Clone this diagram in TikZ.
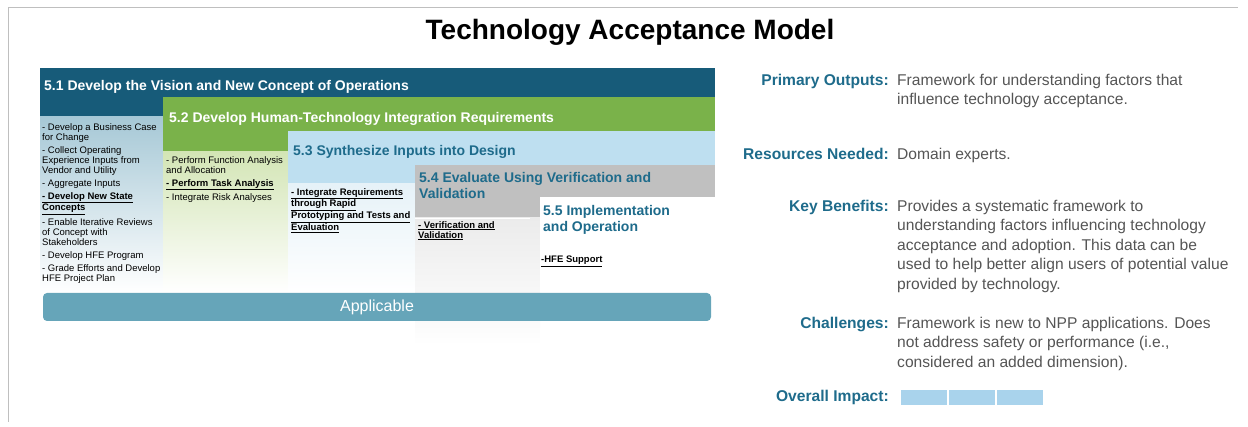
\documentclass[tikz,border=0pt]{standalone}
\usepackage{fontspec}
\setmainfont{Liberation Sans}
\definecolor{cA}{HTML}{175B79}
\definecolor{cB}{HTML}{7AB24A}
\definecolor{cC}{HTML}{BEDFF0}
\definecolor{cD}{HTML}{C0C0C0}
\definecolor{teal}{HTML}{1E6B8B}
\definecolor{appl}{HTML}{66A5B9}
\definecolor{txt}{HTML}{555555}
\definecolor{bA}{HTML}{A6C8D6}
\definecolor{bB}{HTML}{D3E5B5}
\definecolor{bC}{HTML}{E6F2F8}
\definecolor{bD}{HTML}{EBEBEB}
\definecolor{imp}{HTML}{A9D3EC}
\begin{document}
\begin{tikzpicture}[x=1pt,y=-1pt,
  hdrw/.style={anchor=west,inner sep=0pt,font=\fontsize{14}{15}\selectfont\bfseries,text=white,align=left},
  hdrt/.style={anchor=west,inner sep=0pt,font=\fontsize{14}{16}\selectfont\bfseries,text=teal,align=left},
  body/.style={anchor=north west,inner sep=0pt,font=\fontsize{9.5}{10}\selectfont,text=black,align=left},
  lab/.style={anchor=north east,inner sep=0pt,font=\fontsize{15.6}{19.4}\selectfont\bfseries,text=teal,align=right},
  val/.style={anchor=north west,inner sep=0pt,font=\fontsize{15.6}{19.4}\selectfont,text=txt,align=left}
]
\useasboundingbox (0,0) rectangle (1248,427);
% frame
\draw[black!25,line width=0.8pt] (8,422) -- (8,7) -- (1238,7);
% title
\node[inner sep=0pt,font=\fontsize{28}{30}\selectfont\bfseries] (title) at (630,32) {Technology Acceptance Model};

% 5.1
\fill[cA] (40,68) rectangle (715,117);
\shade[top color=bA,bottom color=white] (40,117) rectangle (163,292);
% 5.4 faint column continuation
\shade[top color=black!5,bottom color=white] (415,280) rectangle (540,345);
% 5.2
\fill[cB] (163,97) rectangle (715,152);
\shade[top color=bB,bottom color=white] (163,152) rectangle (288,292);
% 5.3
\fill[cC] (288,131) rectangle (715,184);
\shade[top color=bC,bottom color=white] (288,184) rectangle (415,292);
% 5.4
\fill[cD] (415,165) rectangle (715,218);
\shade[top color=bD,bottom color=black!3] (415,218) rectangle (540,292);
\draw[white,line width=0.8pt] (415,218) -- (530,218);
% 5.5
\fill[white] (540,197) rectangle (715,292);

% headers
\node[hdrw] (h51) at (44,87) {5.1 Develop the Vision and New Concept of Operations};
\node[hdrw] (h52) at (169,119) {5.2 Develop Human-Technology Integration Requirements};
\node[hdrt] (h53) at (293,152) {5.3 Synthesize Inputs into Design};
\node[hdrt] (h54) at (419,185.5) {5.4 Evaluate Using Verification and\\Validation};
\node[hdrt] (h55) at (543,219.5) {5.5 Implementation\\and Operation};

% bodies
\node[body] (b51) at (42,123) {- Develop a Business Case\\for Change\\[3pt]
- Collect Operating\\Experience Inputs from\\Vendor and Utility\\[3pt]
- Aggregate Inputs\\[3pt]
{\bfseries\underline{- Develop New State}}\\{\bfseries\underline{Concepts}}\\[3pt]
- Enable Iterative Reviews\\of Concept with\\Stakeholders\\[3pt]
- Develop HFE Program\\[3pt]
- Grade Efforts and Develop\\HFE Project Plan};
\node[body] (b52) at (166,156) {- Perform Function Analysis\\and Allocation\\[3pt]
{\bfseries\underline{- Perform Task Analysis}}\\[3pt]
- Integrate Risk Analyses};
\node[body] (b53) at (291,188) {\bfseries\underline{- Integrate Requirements}\\\bfseries\underline{through Rapid}\\\bfseries\underline{Prototyping and Tests and}\\\bfseries\underline{Evaluation}};
\node[body] (b54) at (418,221) {\bfseries\underline{- Verification and}\\\bfseries\underline{Validation}};
\node[body] (b55) at (541,256) {\bfseries\underline{-HFE Support}};

% applicable
\node[rounded corners=4pt,fill=appl,minimum width=668pt,minimum height=28pt,inner sep=0pt,
  text=white,font=\fontsize{16}{18}\selectfont] (applic) at (377,307) {Applicable};

% right side
\node[lab] (l1) at (889,74) {Primary Outputs:};
\node[val] (v1) at (897,74) {Framework for understanding factors that\\influence technology acceptance.};
\node[lab] (l2) at (889,148) {Resources Needed:};
\node[val] (v2) at (897,148) {Domain experts.};
\node[lab] (l3) at (889,200) {Key Benefits:};
\node[val] (v3) at (897,200) {Provides a systematic framework to\\understanding factors influencing technology\\acceptance and adoption. This data can be\\used to help better align users of potential value\\provided by technology.};
\node[lab] (l4) at (889,317) {Challenges:};
\node[val] (v4) at (897,317) {Framework is new to NPP applications. Does\\not address safety or performance (i.e.,\\considered an added dimension).};
\node[lab] (l5) at (889,390) {Overall Impact:};
\node[fill=imp,inner sep=0pt,minimum width=46pt,minimum height=15pt,anchor=west] (i1) at (901,397.5) {};
\node[fill=imp,inner sep=0pt,minimum width=46pt,minimum height=15pt,anchor=west] (i2) at (949,397.5) {};
\node[fill=imp,inner sep=0pt,minimum width=46pt,minimum height=15pt,anchor=west] (i3) at (997,397.5) {};
\end{tikzpicture}
\end{document}
